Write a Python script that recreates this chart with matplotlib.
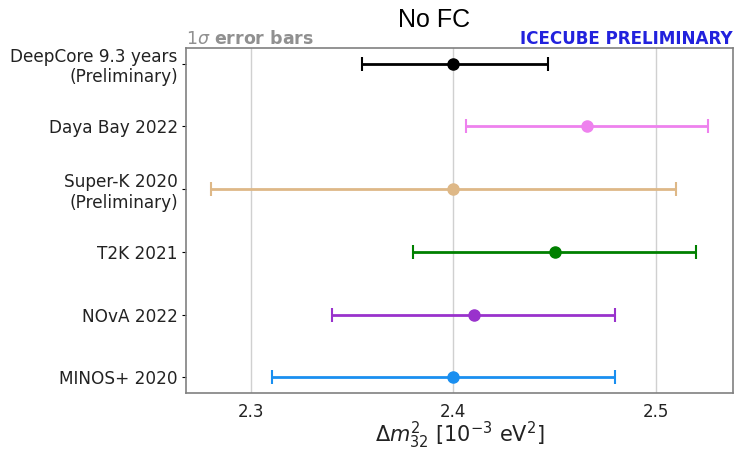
import matplotlib
matplotlib.use("Agg")
import matplotlib.pyplot as plt

plt.rcParams["font.family"] = ["DejaVu Sans"]
plt.rcParams["mathtext.fontset"] = "dejavusans"

experiments = ["DeepCore 9.3 years\n(Preliminary)", "Daya Bay 2022", "Super-K 2020\n(Preliminary)",
               "T2K 2021", "NOvA 2022", "MINOS+ 2020"]
central = [2.40, 2.466, 2.40, 2.45, 2.41, 2.40]
err_low = [0.045, 0.06, 0.12, 0.07, 0.07, 0.09]
err_high = [0.047, 0.06, 0.11, 0.07, 0.07, 0.08]
colors = ["black", "violet", "burlywood", "green", "darkorchid", "#1a8ff0"]
xticks = [2.3, 2.4, 2.5]

fig = plt.figure(figsize=(7.4, 4.49), dpi=100)
top, bottom = 48, 393
ax = fig.add_axes([186/740, 1-bottom/449, (733-186)/740, (bottom-top)/449])

n = len(experiments)
ypos = list(range(n - 1, -1, -1))
for y, c, lo, hi, col in zip(ypos, central, err_low, err_high, colors):
    ax.errorbar([c], [y], xerr=[[lo], [hi]], fmt="o", color=col, ecolor=col,
                elinewidth=2, capsize=5, capthick=1.5, markersize=8)

ax.set_yticks(ypos)
ax.set_yticklabels(experiments, fontsize=12.2, color="#222222")
ax.set_xticks(xticks)
ax.set_xticklabels([str(t) for t in xticks], fontsize=12, color="#222222")
ax.tick_params(axis="x", length=0, pad=7)
ax.tick_params(axis="y", length=3, pad=3)
ax.grid(axis="x", color="#d0d0d0", linewidth=1)
ax.set_axisbelow(True)
for s in ax.spines.values():
    s.set_color("#808080")
    s.set_linewidth(1.2)

ax.set_xlabel(r"$\Delta m^2_{32}$ [$10^{-3}$ eV$^2$]", fontsize=15, labelpad=-1, color="#222222")
ax.set_title("No FC", fontsize=18, pad=15, x=0.453, family=["Liberation Sans", "DejaVu Sans"])
ax.text(0.0, 1.012, r"$1\sigma$ error bars", transform=ax.transAxes, ha="left", va="baseline",
        fontsize=12.5, fontweight="bold", color="#909090")
ax.text(1.0, 1.012, "ICECUBE PRELIMINARY", transform=ax.transAxes, ha="right", va="baseline",
        fontsize=12.1, fontweight="bold", color="#2222dd")

fig.savefig("out.png", dpi=100)
